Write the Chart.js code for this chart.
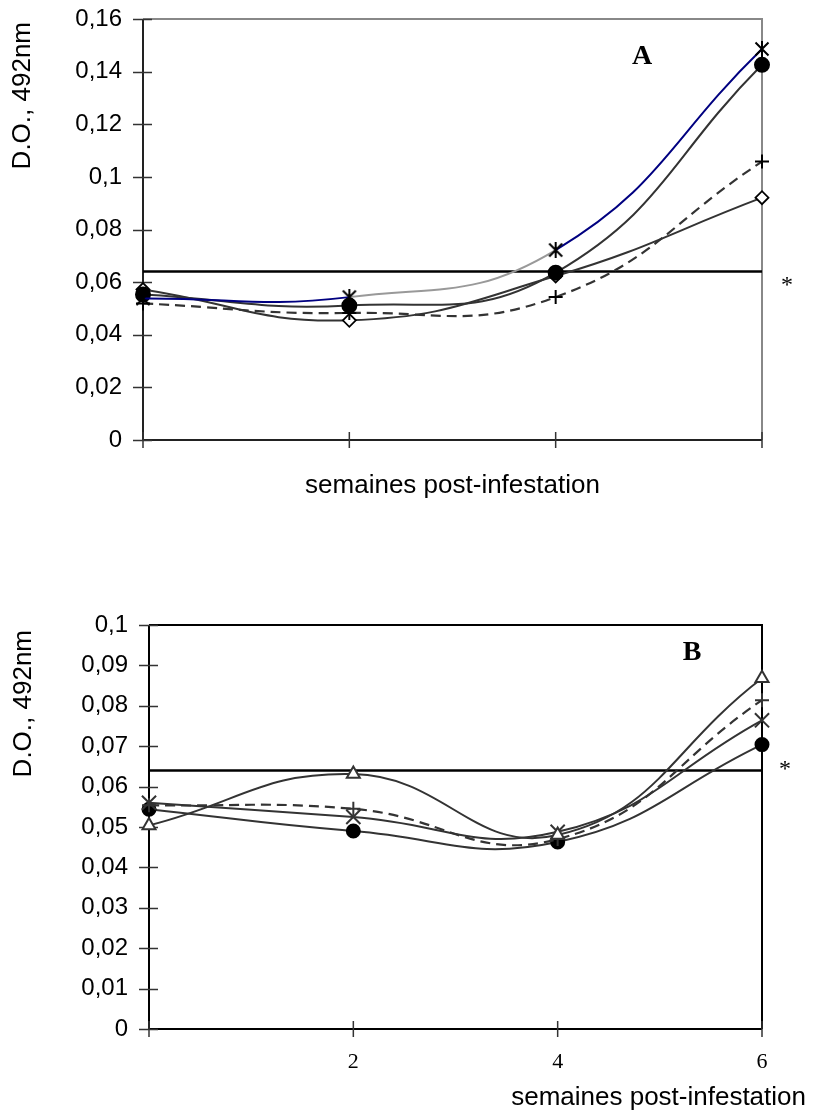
<!DOCTYPE html>
<html>
<head>
<meta charset="utf-8">
<script src="https://cdn.jsdelivr.net/npm/chart.js@4.4.0/dist/chart.umd.min.js"></script>
<style>
  html, body { margin: 0; padding: 0; background: #fff; }
  .wrap { position: absolute; left: 0; width: 816px; }
  #wrapA { top: 0; height: 540px; }
  #wrapB { top: 560px; height: 555px; }
</style>
</head>
<body>
<div class="wrap" id="wrapA"><canvas id="chartA"></canvas></div>
<div class="wrap" id="wrapB"><canvas id="chartB"></canvas></div>
<script>
// semaines post-infestation
const weeks = ['0', '2', '4', '6'];
const xLabelsB = ['', '2', '4', '6'];

// panel A
const starA = [0.0538, 0.0543, 0.0722, 0.1486];
const circleA = [0.0553, 0.0511, 0.0636, 0.1426];
const plusA = [0.0519, 0.0483, 0.0543, 0.1058];
const diamondA = [0.0572, 0.0455, 0.0623, 0.0921];
const yTicksA = [0, 0.02, 0.04, 0.06, 0.08, 0.1, 0.12, 0.14, 0.16];
const thresholdA = 0.064;

// panel B
const triangleB = [0.0504, 0.0631, 0.0480, 0.0868];
const plusB = [0.0554, 0.0545, 0.0470, 0.0814];
const crossB = [0.0560, 0.0525, 0.0488, 0.0764];
const circleB = [0.0544, 0.0490, 0.0463, 0.0704];
const yTicksB = [0, 0.01, 0.02, 0.03, 0.04, 0.05, 0.06, 0.07, 0.08, 0.09, 0.1];
const thresholdB = 0.064;

const SANS = '"Liberation Sans", Arial, sans-serif';
const SERIF = '"Liberation Serif", "Times New Roman", serif';

// excel-like star marker: X with a vertical bar
function starMarker(size) {
  const c = document.createElement('canvas');
  c.width = size; c.height = size;
  const g = c.getContext('2d');
  const m = 1.5, s = size - 1.5;
  g.strokeStyle = '#000';
  g.lineWidth = 2;
  g.beginPath();
  g.moveTo(m, m); g.lineTo(s, s);
  g.moveTo(s, m); g.lineTo(m, s);
  g.moveTo(size / 2, 0); g.lineTo(size / 2, size);
  g.stroke();
  return c;
}

const fmt = v => String(+v.toFixed(2)).replace('.', ',');

const decor = {
  id: 'decor',
  beforeDatasetsDraw(chart, args, o) {
    const { ctx, chartArea: a, scales: { x, y } } = chart;
    ctx.save();
    // frame
    ctx.lineWidth = 2;
    ctx.strokeStyle = o.farColor;
    ctx.beginPath();
    ctx.moveTo(a.left, a.top); ctx.lineTo(a.right, a.top); ctx.lineTo(a.right, a.bottom);
    ctx.stroke();
    ctx.strokeStyle = o.axisColor;
    ctx.beginPath();
    ctx.moveTo(a.left, a.top); ctx.lineTo(a.left, a.bottom); ctx.lineTo(a.right, a.bottom);
    ctx.stroke();
    // tick marks crossing the axes
    ctx.lineWidth = 1.5;
    ctx.strokeStyle = '#333';
    ctx.beginPath();
    y.ticks.forEach(t => {
      const py = Math.round(y.getPixelForValue(t.value)) + 0.5;
      ctx.moveTo(a.left - 10, py); ctx.lineTo(a.left + 9, py);
    });
    x.ticks.forEach((t, i) => {
      const px = x.getPixelForTick(i);
      ctx.moveTo(px, a.bottom - 8); ctx.lineTo(px, a.bottom + 8);
    });
    ctx.stroke();
    // threshold
    const ty = y.getPixelForValue(o.threshold);
    ctx.lineWidth = 2.5;
    ctx.strokeStyle = '#000';
    ctx.beginPath();
    ctx.moveTo(a.left, ty); ctx.lineTo(a.right, ty);
    ctx.stroke();
    ctx.restore();
  },
  afterDraw(chart, args, o) {
    const { ctx, chartArea: a } = chart;
    ctx.save();
    ctx.fillStyle = '#000';
    // panel letter
    ctx.font = 'bold 28px ' + SERIF;
    ctx.textAlign = 'center';
    ctx.textBaseline = 'middle';
    ctx.fillText(o.letter, o.letterX, o.letterY);
    // significance mark
    ctx.font = '24px ' + SERIF;
    ctx.fillText('*', o.starX, o.starY);
    // y title
    ctx.save();
    ctx.translate(o.yTitleX, o.yTitleY);
    ctx.rotate(-Math.PI / 2);
    ctx.font = '26px ' + SANS;
    ctx.textAlign = 'right';
    ctx.textBaseline = 'middle';
    ctx.fillText('D.O., 492nm', 0, 0);
    ctx.restore();
    // x title
    ctx.font = '26px ' + SANS;
    ctx.textBaseline = 'alphabetic';
    ctx.textAlign = o.xTitleAlign;
    const tx = o.xTitleAlign === 'center' ? (a.left + a.right) / 2 : o.xTitleX;
    ctx.fillText('semaines post-infestation', tx, o.xTitleY);
    ctx.restore();
  }
};

function line(data, extra) {
  return Object.assign({
    data,
    borderColor: '#333',
    borderWidth: 2,
    tension: 0.45,
    fill: false,
    clip: false,
    pointBorderColor: '#000',
    pointBackgroundColor: '#000',
    pointBorderWidth: 2
  }, extra);
}

function makeChart(id, datasets, opts) {
  return new Chart(document.getElementById(id), {
    type: 'line',
    data: { labels: weeks, datasets },
    options: {
      responsive: true,
      maintainAspectRatio: false,
      animation: false,
      events: [],
      layout: { padding: { left: 0, top: opts.top, right: 54, bottom: 0 } },
      plugins: { legend: { display: false }, tooltip: { enabled: false }, decor: opts.decor },
      scales: {
        x: {
          offset: false,
          grid: { display: false, drawTicks: false },
          border: { display: false },
          ticks: {
            display: opts.xLabels !== null,
            padding: 20,
            color: '#000',
            font: { family: SERIF, size: 22 },
            autoSkip: false,
            maxRotation: 0,
            callback: (v, i) => opts.xLabels ? opts.xLabels[i] : ''
          },
          afterFit: s => { s.height = opts.xHeight; }
        },
        y: {
          min: 0,
          max: opts.yTicks[opts.yTicks.length - 1],
          grid: { display: false, drawTicks: true, tickLength: 21 },
          border: { display: false },
          afterBuildTicks: s => { s.ticks = opts.yTicks.map(v => ({ value: v })); },
          ticks: {
            padding: 0,
            color: '#000',
            font: { family: SANS, size: 24 },
            callback: v => fmt(v)
          },
          afterFit: s => { s.width = opts.yWidth; }
        }
      }
    },
    plugins: [decor]
  });
}

makeChart('chartA', [
  line(starA, {
    borderColor: '#000080',
    segment: { borderColor: c => c.p0DataIndex === 1 ? '#999' : '#000080' },
    pointStyle: starMarker(16), pointRadius: 8
  }),
  line(circleA, { pointStyle: 'circle', pointRadius: 7 }),
  line(plusA, { borderDash: [10, 6], borderWidth: 2.2, pointStyle: 'cross', pointRadius: 7 }),
  line(diamondA, { pointStyle: 'rectRot', pointRadius: 6.5, pointBackgroundColor: '#fff', pointBorderWidth: 1.8 })
], {
  top: 19, yWidth: 143, xHeight: 100, xLabels: null, yTicks: yTicksA,
  decor: {
    threshold: thresholdA, farColor: '#888', axisColor: '#222',
    letter: 'A', letterX: 642, letterY: 57,
    starX: 787, starY: 286,
    yTitleX: 23, yTitleY: 22,
    xTitleAlign: 'center', xTitleY: 493
  }
});

makeChart('chartB', [
  line(triangleB, { pointStyle: 'triangle', pointRadius: 7.5, pointBackgroundColor: '#fff', pointBorderColor: '#333' }),
  line(plusB, { borderDash: [10, 6], borderWidth: 2.2, pointStyle: 'cross', pointRadius: 7, pointBorderColor: '#333' }),
  line(crossB, { pointStyle: 'crossRot', pointRadius: 10, pointBorderColor: '#333' }),
  line(circleB, { pointStyle: 'circle', pointRadius: 6.5 })
], {
  top: 65, yWidth: 149, xHeight: 86, xLabels: xLabelsB, yTicks: yTicksB,
  decor: {
    threshold: thresholdB, farColor: '#000', axisColor: '#000',
    letter: 'B', letterX: 692, letterY: 93,
    starX: 785, starY: 210,
    yTitleX: 24, yTitleY: 70,
    xTitleAlign: 'right', xTitleX: 806, xTitleY: 545
  }
});
</script>
</body>
</html>
